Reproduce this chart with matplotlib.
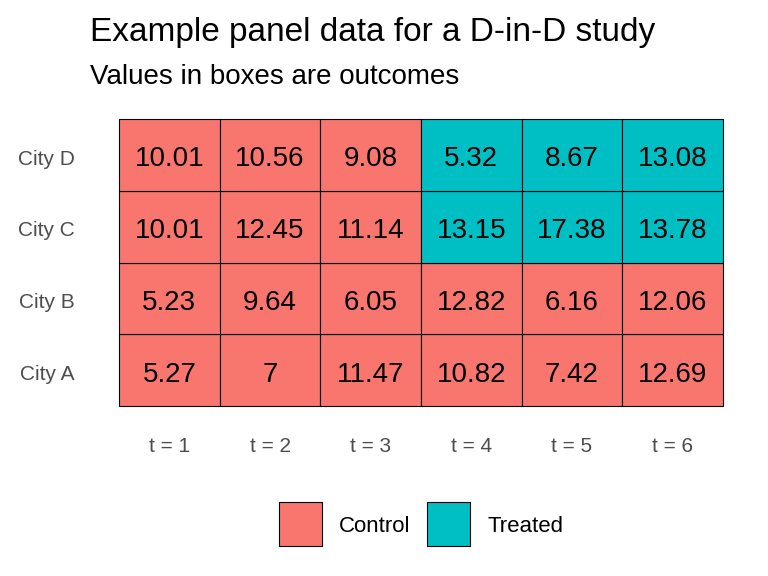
import matplotlib
matplotlib.use("Agg")
import matplotlib.pyplot as plt
from matplotlib.patches import Rectangle

plt.rcParams['font.family'] = ['Liberation Sans', 'DejaVu Sans']

cities = ["City A", "City B", "City C", "City D"]
periods = ["t = 1", "t = 2", "t = 3", "t = 4", "t = 5", "t = 6"]
outcomes = [
    ["5.27", "7", "11.47", "10.82", "7.42", "12.69"],
    ["5.23", "9.64", "6.05", "12.82", "6.16", "12.06"],
    ["10.01", "12.45", "11.14", "13.15", "17.38", "13.78"],
    ["10.01", "10.56", "9.08", "5.32", "8.67", "13.08"],
]
treated = [
    [0, 0, 0, 0, 0, 0],
    [0, 0, 0, 0, 0, 0],
    [0, 0, 0, 1, 1, 1],
    [0, 0, 0, 1, 1, 1],
]
colors = {0: "#F8766D", 1: "#00BFC4"}

fig = plt.figure(figsize=(7.68, 5.76), dpi=100)
ax = fig.add_axes([119/768, 1-406/576, 604/768, 287/576])

for i, city in enumerate(cities):
    for j, t in enumerate(periods):
        ax.add_patch(Rectangle((j, i), 1, 1, facecolor=colors[treated[i][j]],
                               edgecolor="black", linewidth=0.8, clip_on=False))
        ax.text(j + 0.5, i + 0.48, outcomes[i][j], ha="center",
                va="center_baseline", fontsize=20, color="black")

ax.set_xlim(0, len(periods))
ax.set_ylim(0, len(cities))
ax.set_xticks([j + 0.5 for j in range(len(periods))])
ax.set_xticklabels(periods)
ax.set_yticks([i + 0.47 for i in range(len(cities))])
ax.set_yticklabels(cities)
ax.tick_params(length=0, labelsize=15, labelcolor="#4D4D4D")
ax.tick_params(axis="x", pad=22)
ax.tick_params(axis="y", pad=32)
for s in ax.spines.values():
    s.set_visible(False)

fig.text(90/768, 1-33/576, "Example panel data for a D-in-D study", fontsize=24,
         va="center", ha="left")
fig.text(90/768, 1-77/576, "Values in boxes are outcomes", fontsize=20,
         va="center", ha="left")

# legend
lx = [279, 427]
labels = ["Control", "Treated"]
for k in range(2):
    fig.patches.append(Rectangle((lx[k]/768, 1-546/576), 43/768, 44/576,
                                 transform=fig.transFigure, facecolor=colors[k],
                                 edgecolor="black", linewidth=0.8))
    fig.text((lx[k]+60)/768, 1-526/576, labels[k], fontsize=16, va="center",
             ha="left")

fig.savefig("out.png", dpi=100)
